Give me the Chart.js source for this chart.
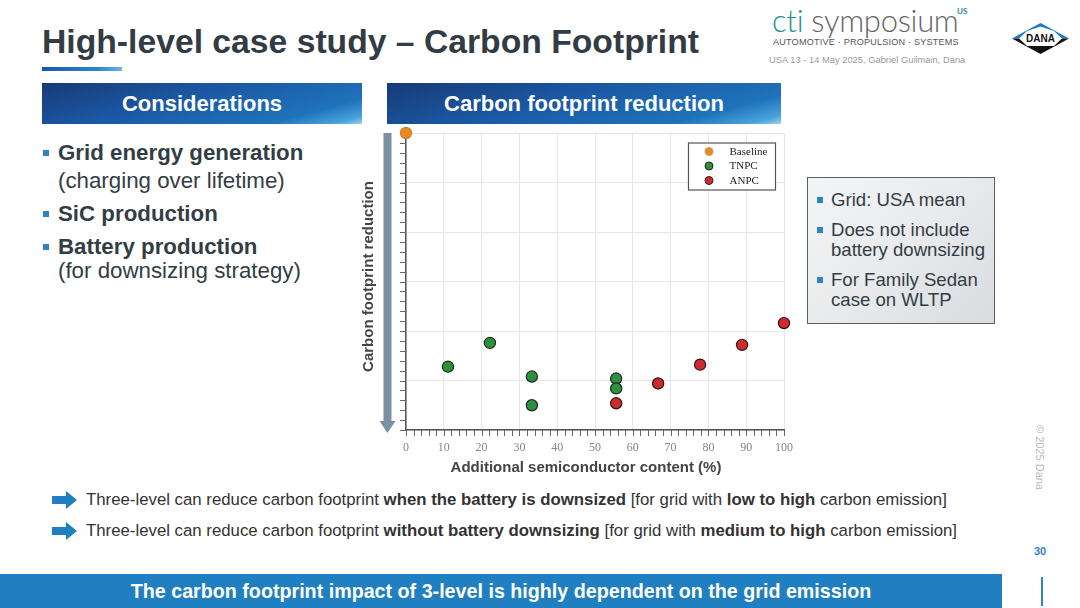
<!DOCTYPE html>
<html>
<head>
<meta charset="utf-8">
<script src="https://cdn.jsdelivr.net/npm/chart.js@4.4.1/dist/chart.umd.min.js"></script>
<style>
  html,body{margin:0;padding:0;}
  body{width:1080px;height:608px;position:relative;overflow:hidden;background:#fff;font-family:"Liberation Sans",Arial,sans-serif;color:#333d44;}
  .abs{position:absolute;white-space:nowrap;}
  #title{left:42px;top:24px;font-size:33.7px;font-weight:bold;line-height:34px;color:#333c44;}
  #tbar{left:42px;top:67px;width:80px;height:4px;background:linear-gradient(90deg,#1b58a2,#2a86cf 70%,#6fb6e6);}
  .hdr{top:83px;height:41px;color:#fff;font-weight:bold;font-size:22px;line-height:41px;text-align:center;
       background:linear-gradient(165deg,#173a76 0%,#1b57a3 40%,#1e73bb 80%,#4aa2dc 94%,#9fd0f0 100%);}
  #h1{left:42px;width:320px;}
  #h2{left:387px;width:394px;}
  .bl{left:58px;font-size:22.3px;line-height:24px;}
  .bl b{font-weight:bold;}
  .sq{position:absolute;width:6px;height:6px;background:#2f82c6;}
  #note{left:807px;top:177px;width:188px;height:147px;border:1px solid #5a5f64;box-sizing:border-box;
        background:linear-gradient(135deg,#f4f5f6 0%,#e8eaec 50%,#d9dcdf 100%);}
  .nt{left:831px;font-size:18.6px;line-height:20px;color:#333d44;}
  .arrowln{left:86px;font-size:16.8px;line-height:18px;color:#333;}
  #banner{left:0;top:574px;width:1002px;height:34px;background:#1f7fc0;color:#fff;font-weight:bold;font-size:19.7px;line-height:34px;text-align:center;}
  #chartbox{position:absolute;left:340px;top:120px;width:464px;height:360px;}
</style>
</head>
<body>
<div class="abs" id="title">High-level case study – Carbon Footprint</div>
<div class="abs" id="tbar"></div>

<!-- cti symposium logo -->
<div class="abs" style="left:772px;top:0px;font-family:Lato,'Open Sans',sans-serif;font-weight:300;font-size:31px;line-height:40px;letter-spacing:-0.3px;"><span style="color:#2a8d92;">cti</span><span style="color:#666;"> symposium</span></div>
<div class="abs" style="left:957px;top:6px;font-family:Lato,sans-serif;font-weight:bold;font-size:8px;color:#2a8d92;">US</div>
<div class="abs" style="left:773px;top:37px;font-size:9.1px;line-height:11px;color:#555;letter-spacing:0.2px;">AUTOMOTIVE · PROPULSION · SYSTEMS</div>
<div class="abs" style="left:769px;top:55px;font-size:9.35px;line-height:11px;color:#9a9a9a;">USA 13 - 14 May 2025, Gabriel Guilmain, Dana</div>
<!-- Dana logo -->
<svg class="abs" style="left:1012px;top:23px;" width="57" height="31" viewBox="0 0 57 31">
  <polygon points="0,15.5 28.5,0 57,15.5" fill="#2277c2"/>
  <polygon points="0,15.5 28.5,31 57,15.5" fill="#111"/>
  <polygon points="7,15.5 15,8 42,8 50,15.5 42,23 15,23" fill="#fff"/>
  <polygon points="15,8 28.5,3.5 42,8" fill="#fff"/>
  <text x="28.5" y="19.3" text-anchor="middle" font-family="Liberation Sans,Arial" font-weight="bold" font-size="10" fill="#111">DANA</text>
</svg>

<div class="abs hdr" id="h1">Considerations</div>
<div class="abs hdr" id="h2">Carbon footprint reduction</div>

<!-- left bullets -->
<div class="sq" style="left:43px;top:150px;"></div>
<div class="abs bl" style="top:141px;"><b>Grid energy generation</b></div>
<div class="abs bl" style="top:169px;">(charging over lifetime)</div>
<div class="sq" style="left:43px;top:211px;"></div>
<div class="abs bl" style="top:202px;"><b>SiC production</b></div>
<div class="sq" style="left:43px;top:244px;"></div>
<div class="abs bl" style="top:235px;"><b>Battery production</b></div>
<div class="abs bl" style="top:259px;">(for downsizing strategy)</div>

<!-- chart -->
<div id="chartbox"><canvas id="c"></canvas></div>

<!-- note box -->
<div class="abs" id="note"></div>
<div class="sq" style="left:817px;top:197px;"></div>
<div class="abs nt" style="top:190px;">Grid: USA mean</div>
<div class="sq" style="left:817px;top:227px;"></div>
<div class="abs nt" style="top:220px;">Does not include</div>
<div class="abs nt" style="top:240px;">battery downsizing</div>
<div class="sq" style="left:817px;top:277px;"></div>
<div class="abs nt" style="top:270px;">For Family Sedan</div>
<div class="abs nt" style="top:290px;">case on WLTP</div>

<!-- copyright -->
<div class="abs" style="left:1033px;top:425px;font-size:11px;line-height:14px;color:#bbb;transform-origin:0 0;transform:translate(14px,0) rotate(90deg);">© 2025 Dana</div>

<!-- bottom statements -->
<svg class="abs" style="left:52px;top:491px;" width="25" height="18" viewBox="0 0 25 18"><polygon points="0,5 14,5 14,0 25,9 14,18 14,13 0,13" fill="#1f7fc0"/></svg>
<div class="abs arrowln" style="top:491px;">Three-level can reduce carbon footprint <b>when the battery is downsized</b> [for grid with <b>low to high</b> carbon emission]</div>
<svg class="abs" style="left:52px;top:522px;" width="25" height="18" viewBox="0 0 25 18"><polygon points="0,5 14,5 14,0 25,9 14,18 14,13 0,13" fill="#1f7fc0"/></svg>
<div class="abs arrowln" style="top:522px;">Three-level can reduce carbon footprint <b>without battery downsizing</b> [for grid with <b>medium to high</b> carbon emission]</div>

<div class="abs" style="left:1034px;top:545px;font-size:11px;font-weight:bold;color:#2f82c6;">30</div>
<div class="abs" id="banner">The carbon footprint impact of 3-level is highly dependent on the grid emission</div>
<div class="abs" style="left:1041px;top:577px;width:2px;height:29px;background:#2f82c6;"></div>

<script>
// ---- data ----
const seriesLabels = ["Baseline", "TNPC", "ANPC"];
const baselineX = [0];
const baselineY = [0];
const tnpcX = [11.1, 22.2, 33.3, 33.3, 55.6, 55.6];
const tnpcY = [23.6, 21.2, 24.6, 27.5, 24.8, 25.8];
const anpcX = [55.6, 66.7, 77.8, 88.9, 100];
const anpcY = [27.3, 25.3, 23.4, 21.4, 19.2];
const xTicks = [0, 10, 20, 30, 40, 50, 60, 70, 80, 90, 100];
const xTitle = "Additional semiconductor content (%)";
const yTitle = "Carbon footprint reduction";

const toPts = (xs, ys) => xs.map((v, i) => ({x: v, y: ys[i]}));

const seriesFill = ["#e98b22", "#2e8f3d", "#cf2a2d"];
const seriesBorder = ["#c9822e", "#1d2a1f", "#2a1515"];

const decor = {
  id: 'decor',
  beforeDatasetsDraw(chart) {
    const {ctx, chartArea: a, scales: {x, y}} = chart;
    ctx.save();
    ctx.strokeStyle = '#666';
    ctx.lineWidth = 1;
    ctx.beginPath();
    for (let v = y.min; v <= y.max; v += 1) {
      const py = Math.round(y.getPixelForValue(v)) + 0.5;
      ctx.moveTo(a.left - 6, py); ctx.lineTo(a.left, py);
    }
    for (let v = x.min; v <= x.max; v += 2) {
      const px = Math.round(x.getPixelForValue(v)) + 0.5;
      ctx.moveTo(px, a.bottom); ctx.lineTo(px, a.bottom + 6);
    }
    ctx.stroke();
    // down arrow
    const cx = a.left - 18.5;
    ctx.fillStyle = '#7b90a2';
    ctx.fillRect(cx - 4, a.top, 8, a.bottom - a.top - 8);
    ctx.beginPath();
    ctx.moveTo(cx - 8, a.bottom - 9);
    ctx.lineTo(cx + 8, a.bottom - 9);
    ctx.lineTo(cx, a.bottom + 3);
    ctx.closePath();
    ctx.fill();
    ctx.restore();
  },
  afterDraw(chart) {
    const {ctx, chartArea: a} = chart;
    ctx.save();
    // axis titles
    ctx.fillStyle = '#444';
    ctx.font = 'bold 15px "Liberation Sans", Arial, sans-serif';
    ctx.textAlign = 'center';
    ctx.textBaseline = 'middle';
    ctx.fillText(xTitle, (a.left + a.right) / 2 - 9, a.bottom + 38);
    ctx.translate(a.left - 37.5, (a.top + a.bottom) / 2 - 5);
    ctx.rotate(-Math.PI / 2);
    ctx.fillText(yTitle, 0, 0);
    ctx.restore();
    // legend box
    ctx.save();
    const bw = 87, bh = 47;
    const bx = a.right - 96, by = a.top + 9.5;
    ctx.fillStyle = '#fff';
    ctx.fillRect(bx, by, bw, bh);
    ctx.strokeStyle = '#555';
    ctx.lineWidth = 1.2;
    ctx.strokeRect(bx + 0.5, by + 0.5, bw, bh);
    ctx.font = '11px "Liberation Serif", "Times New Roman", serif';
    ctx.textBaseline = 'middle';
    ctx.textAlign = 'left';
    chart.data.datasets.forEach((ds, i) => {
      const yy = by + 9 + i * 14.5;
      ctx.beginPath();
      ctx.arc(bx + 21, yy, 4, 0, Math.PI * 2);
      ctx.fillStyle = ds.backgroundColor;
      ctx.fill();
      ctx.lineWidth = 1;
      ctx.strokeStyle = i === 0 ? '#d99a4a' : '#222';
      ctx.stroke();
      ctx.fillStyle = '#222';
      ctx.fillText(ds.label, bx + 41.5, yy + 0.5);
    });
    ctx.restore();
  }
};

const mk = (i, pts) => ({
  label: seriesLabels[i],
  data: pts,
  backgroundColor: seriesFill[i],
  borderColor: seriesBorder[i],
  borderWidth: 1.2,
  pointRadius: 5.6,
  pointHoverRadius: 5.6,
  clip: 12
});

new Chart(document.getElementById('c'), {
  type: 'scatter',
  data: {
    datasets: [
      mk(0, toPts(baselineX, baselineY)),
      mk(1, toPts(tnpcX, tnpcY)),
      mk(2, toPts(anpcX, anpcY))
    ]
  },
  options: {
    responsive: true,
    maintainAspectRatio: false,
    animation: false,
    layout: {padding: {top: 13, right: 13, left: 0, bottom: 0}},
    plugins: {legend: {display: false}, tooltip: {enabled: false}},
    scales: {
      x: {
        type: 'linear', min: 0, max: 100,
        afterBuildTicks: s => { s.ticks = xTicks.map(v => ({value: v})); },
        afterFit: s => { s.height = 50; },
        grid: {color: '#e6e6e6', lineWidth: 1, drawTicks: false},
        border: {color: '#555', width: 1.5},
        ticks: {padding: 11, color: '#858585', font: {family: '"Liberation Serif", "Times New Roman", serif', size: 12}}
      },
      y: {
        type: 'linear', min: 0, max: 30, reverse: true,
        ticks: {stepSize: 5, display: false},
        afterFit: s => { s.width = 66; },
        grid: {color: '#e6e6e6', lineWidth: 1, drawTicks: false},
        border: {color: '#555', width: 1.5}
      }
    }
  },
  plugins: [decor]
});
</script>
</body>
</html>
